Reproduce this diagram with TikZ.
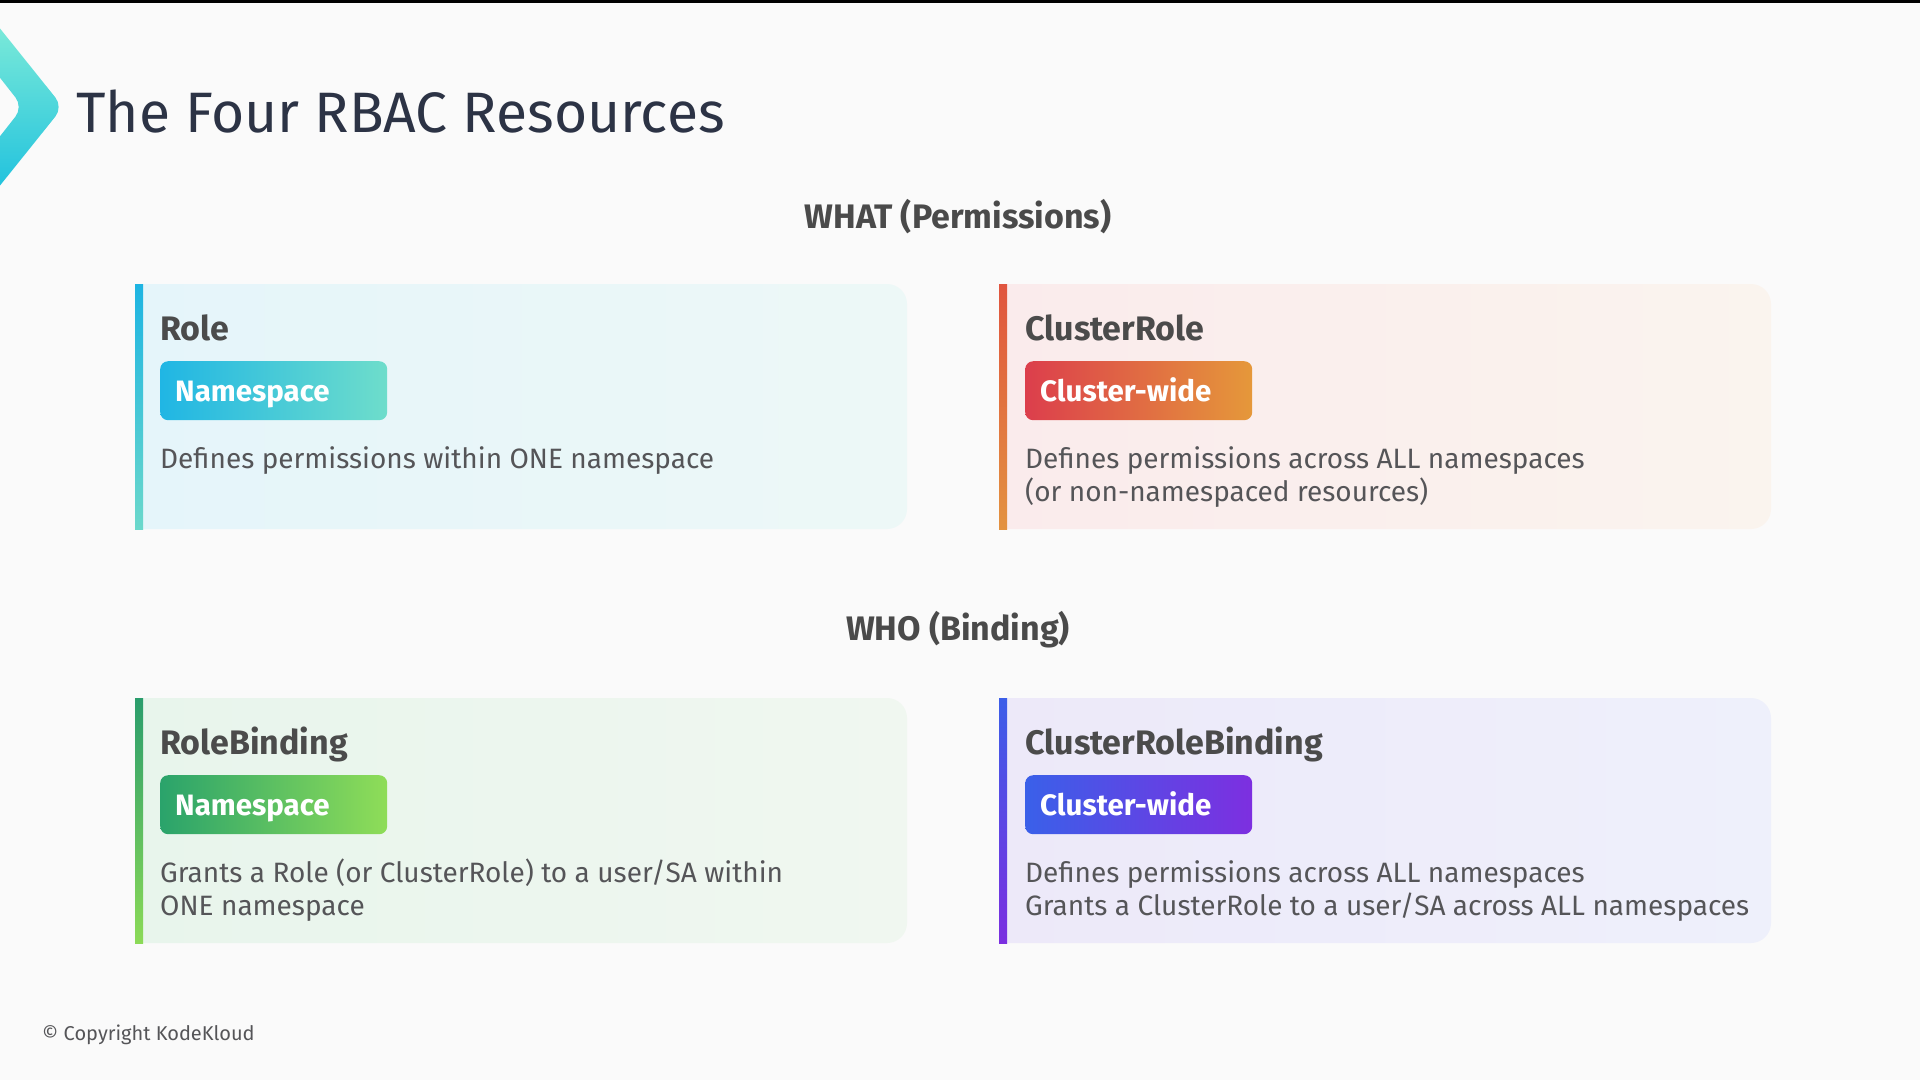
\documentclass[tikz,border=0pt]{standalone}
\usepackage{fontspec}
\setmainfont{Fira Sans}
\definecolor{bgc}{HTML}{FAFAFA}
\definecolor{titlec}{HTML}{2C3345}
\definecolor{secc}{HTML}{4A4A4A}
\definecolor{ctc}{HTML}{4B4B4B}
\definecolor{descc}{HTML}{555558}
\definecolor{chevA}{HTML}{80ECD8}
\definecolor{chevB}{HTML}{1CC0DE}
% Role
\definecolor{rfA}{HTML}{E5F5FA}\definecolor{rfB}{HTML}{EDF8F7}
\definecolor{rbA}{HTML}{1DB4E2}\definecolor{rbB}{HTML}{6BD8CB}
\definecolor{rgA}{HTML}{20B6E4}\definecolor{rgB}{HTML}{6EDDCB}
% ClusterRole
\definecolor{cfA}{HTML}{FAEBEC}\definecolor{cfB}{HTML}{FAF4EE}
\definecolor{cbA}{HTML}{E0553F}\definecolor{cbB}{HTML}{E39240}
\definecolor{cgA}{HTML}{DC3E4C}\definecolor{cgB}{HTML}{E5983A}
% RoleBinding
\definecolor{bfA}{HTML}{E8F5EC}\definecolor{bfB}{HTML}{F0F7F0}
\definecolor{bbA}{HTML}{2A9D6C}\definecolor{bbB}{HTML}{8BDA57}
\definecolor{bgA}{HTML}{2AA36B}\definecolor{bgB}{HTML}{8FDD58}
% ClusterRoleBinding
\definecolor{xfA}{HTML}{EDE9F9}\definecolor{xfB}{HTML}{EEF0FB}
\definecolor{xbA}{HTML}{3C5EE8}\definecolor{xbB}{HTML}{7B2FE0}
\definecolor{xgA}{HTML}{3A60E9}\definecolor{xgB}{HTML}{7D2FE0}
\newcommand\cardbg[6]{%
  \begin{scope}
    \clip[rounded corners=20] (#1-40,#2) rectangle (#1+772,#2+245);
    \shade[left color=#3, right color=#4] (#1,#2) rectangle (#1+772,#2+245);
  \end{scope}
  \shade[top color=#5, bottom color=#6] (#1,#2) rectangle (#1+8,#2+245);
}
\tikzset{
  maintitle/.style={anchor=base west, inner sep=0, text=titlec, font=\fontsize{57}{68}\selectfont},
  section/.style={anchor=base, inner sep=0, text=secc, font=\bfseries\fontsize{34}{40}\selectfont},
  cardtitle/.style={anchor=base west, inner sep=0, text=ctc, font=\bfseries\fontsize{34}{40}\selectfont},
  badge/.style={anchor=north west, rounded corners=8, text width=197, inner xsep=15, inner ysep=0,
    minimum height=59, text height=24, text depth=3, align=left, text=white,
    font=\bfseries\fontsize{29.5}{34}\selectfont},
  desc/.style={anchor=base west, inner sep=0, text=descc, font=\fontsize{28}{33}\selectfont},
  copyr/.style={anchor=base west, inner sep=0, text=descc, font=\fontsize{20}{24}\selectfont}
}
\begin{document}
\begin{tikzpicture}[x=1pt,y=-1pt]
\useasboundingbox (0,0) rectangle (1920,1080);
\fill[bgc] (0,0) rectangle (1920,1080);
\fill[black] (0,0) rectangle (1920,3);
% logo chevron
\shade[top color=chevA, bottom color=chevB, rounded corners=12]
  (-10,16) -- (63,107) -- (-10,198) -- (-10,149) -- (23,107) -- (-10,65) -- cycle;
\node[maintitle] (title) at (76,132) {The Four RBAC Resources};
\node[section] (what) at (958,228) {WHAT (Permissions)};
\node[section] (who) at (958,640) {WHO (Binding)};
% cards backgrounds
\cardbg{135}{284}{rfA}{rfB}{rbA}{rbB}
\cardbg{999}{284}{cfA}{cfB}{cbA}{cbB}
\cardbg{135}{698}{bfA}{bfB}{bbA}{bbB}
\cardbg{999}{698}{xfA}{xfB}{xbA}{xbB}
% Role
\node[cardtitle] (roleT) at (160,340) {Role};
\node[badge, left color=rgA, right color=rgB] (roleB) at (160,361) {Namespace};
\node[desc] (roleD) at (160,468) {Defines permissions within ONE namespace};
% ClusterRole
\node[cardtitle] (crT) at (1025,340) {ClusterRole};
\node[badge, left color=cgA, right color=cgB] (crB) at (1025,361) {Cluster-wide};
\node[desc] (crD1) at (1025,468) {Defines permissions across ALL namespaces};
\node[desc] (crD2) at (1025,501) {(or non-namespaced resources)};
% RoleBinding
\node[cardtitle] (rbT) at (160,754) {RoleBinding};
\node[badge, left color=bgA, right color=bgB] (rbB) at (160,775) {Namespace};
\node[desc] (rbD1) at (160,882) {Grants a Role (or ClusterRole) to a user/SA within};
\node[desc] (rbD2) at (160,915) {ONE namespace};
% ClusterRoleBinding
\node[cardtitle] (crbT) at (1025,754) {ClusterRoleBinding};
\node[badge, left color=xgA, right color=xgB] (crbB) at (1025,775) {Cluster-wide};
\node[desc] (crbD1) at (1025,882) {Defines permissions across ALL namespaces};
\node[desc] (crbD2) at (1025,915) {Grants a ClusterRole to a user/SA across ALL namespaces};
\node[copyr] (copy) at (42,1040) {© Copyright KodeKloud};
\end{tikzpicture}
\end{document}
